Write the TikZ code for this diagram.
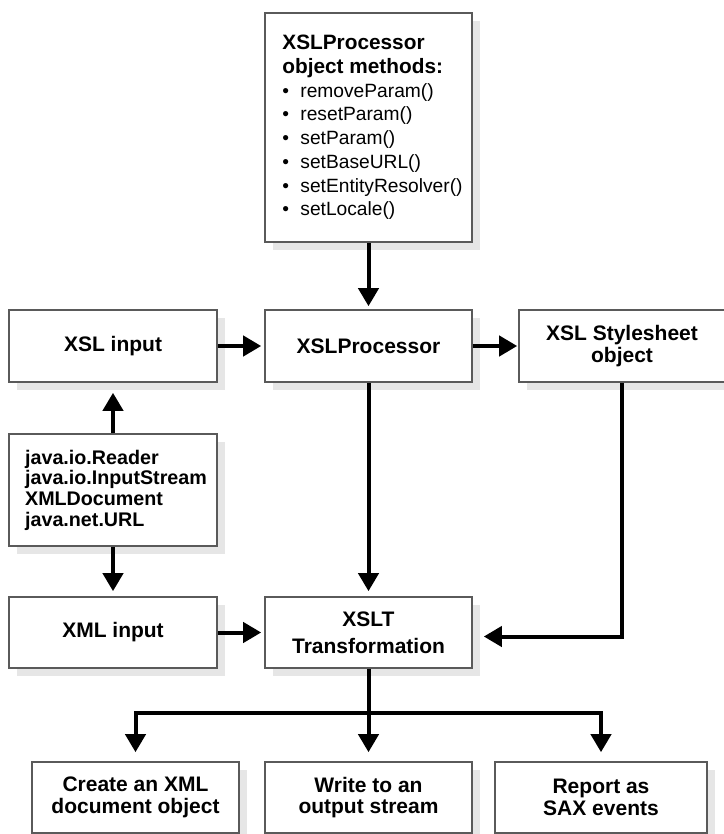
\documentclass[tikz,border=0pt]{standalone}
\usepackage{fontspec}
\setmainfont{Liberation Sans}
\usetikzlibrary{arrows.meta,shadows}
\definecolor{boxline}{HTML}{5A5A5A}
\definecolor{boxshadow}{HTML}{E6E6E6}
\newcommand{\bul}{\makebox[26pt][l]{\hspace*{8pt}•}}
\newcommand{\headline}[1]{\hspace*{8pt}{\fontsize{20.8}{23.7}\selectfont\bfseries #1}}
\newcommand{\srcline}[1]{\hspace*{6pt}#1}

\begin{document}
\begin{tikzpicture}[x=1pt,y=-1pt,
	box/.style={draw=boxline,line width=1.6pt,fill=white,inner sep=0pt,
		minimum width=207pt,minimum height=72pt,align=center,
		font=\fontsize{21}{21.7}\selectfont\bfseries,
		drop shadow={shadow xshift=8pt,shadow yshift=-8pt,fill=boxshadow,opacity=1}},
	arr/.style={line width=4pt,-{Triangle[width=20pt,length=18pt]}},
	link/.style={line width=4pt}]
	\useasboundingbox (0,0) rectangle (723,834);
	\node[box,minimum height=229pt,align=left,font=\fontsize{19.2}{23.7}\selectfont](methods) at (368.5,127.5)
		{\headline{XSLProcessor}\\
		 \headline{object methods:}\\
		 \bul removeParam()\\
		 \bul resetParam()\\
		 \bul setParam()\\
		 \bul setBaseURL()\\
		 \bul setEntityResolver()\\
		 \bul setLocale()};
	\node[box,minimum width=208pt](xslin) at (113,346) {XSL input};
	\node[box](proc) at (368.5,346) {XSLProcessor};
	\node[box,minimum width=206pt](sheet) at (622,346) {XSL Stylesheet\\object};
	\node[box,minimum width=208pt,minimum height=112pt,align=left,
		font=\fontsize{19.7}{20.7}\selectfont\bfseries](java) at (113,490)
		{\srcline{java.io.Reader}\\\srcline{java.io.InputStream}\\\srcline{XMLDocument}\\\srcline{java.net.URL}};
	\node[box,minimum width=208pt,minimum height=71pt](xmlin) at (113,632.5) {XML input};
	\node[box,minimum height=71pt,font=\fontsize{21}{26.7}\selectfont\bfseries](xslt) at (368.5,632.5) {XSLT\\Transformation};
	\node[box,minimum height=71pt](create) at (135.5,797.5) {Create an XML\\document object};
	\node[box,minimum height=71pt](write) at (368.5,797.5) {Write to an\\output stream};
	\node[box,minimum width=212pt,minimum height=71pt](report) at (601,797.5) {Report as\\SAX events};
	\coordinate (split) at (368.5,712.5);
	\draw[arr,shorten >=3pt] (methods) -- (proc);
	\draw[arr,shorten >=3pt] (xslin) -- (proc);
	\draw[arr,shorten >=1pt] (proc) -- (sheet);
	\draw[arr,shorten >=10pt] (java) -- (xslin);
	\draw[arr,shorten >=5pt] (java) -- (xmlin);
	\draw[arr,shorten >=3pt] (xmlin) -- (xslt);
	\draw[arr,shorten >=5pt] (proc) -- (xslt);
	\draw[arr,shorten >=11pt] (sheet.south) |- ([yshift=-4pt]xslt.east);
	\draw[link] (xslt) -- (split);
	\draw[arr,shorten >=9pt] (split) -| (create.north);
	\draw[arr,shorten >=9pt] (split) -- (write.north);
	\draw[arr,shorten >=9pt] (split) -| (report.north);
\end{tikzpicture}
\end{document}
